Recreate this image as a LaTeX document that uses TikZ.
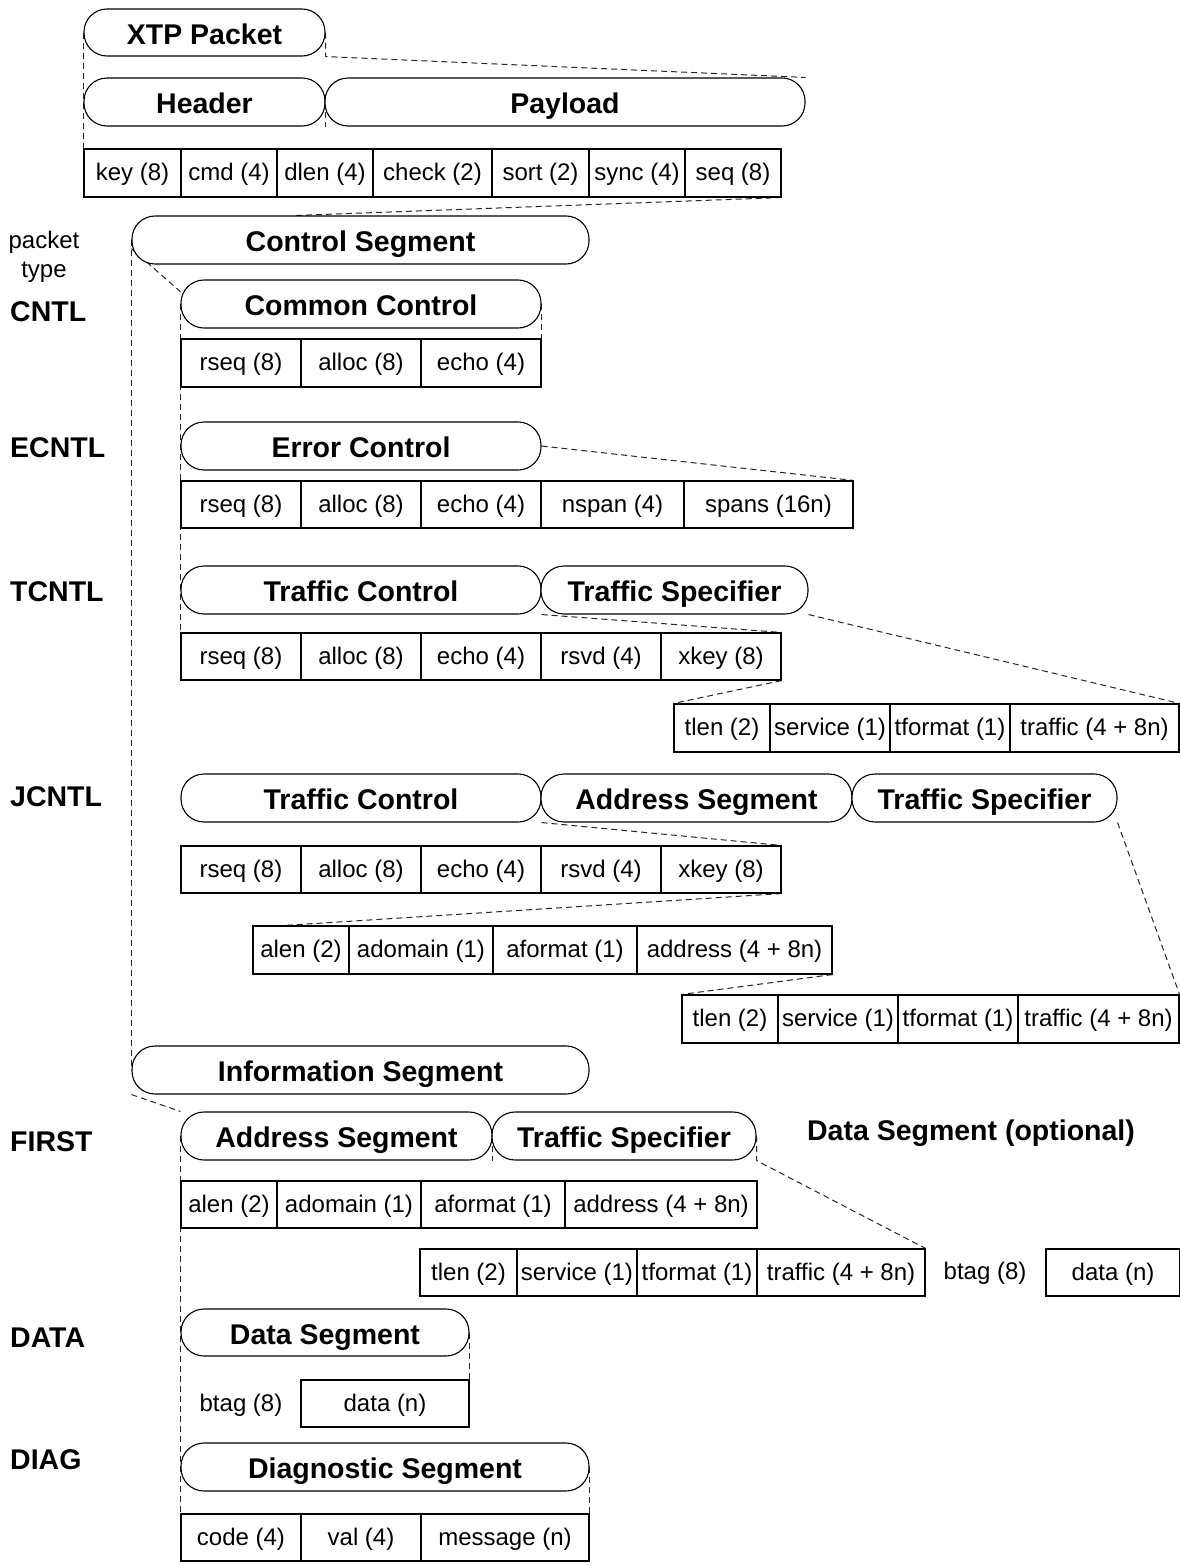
\documentclass[tikz,border=0pt]{standalone}
\usepackage{fontspec}
\setmainfont{Liberation Sans}
\usetikzlibrary{calc}
\pgfdeclarelayer{bg}
\pgfsetlayers{bg,main}
\tikzset{
  pill/.style={draw, line width=1.1pt, fill=white, rounded corners=23pt, inner sep=0pt,
    font=\bfseries\fontsize{28.5}{32}\selectfont, text height=23.4pt, text depth=0pt},
  fld/.style={draw, line width=1.1pt, fill=white, inner sep=0pt,
    font=\fontsize{24}{28}\selectfont, text height=18pt, text depth=3pt},
  bare/.style={inner sep=0pt, font=\fontsize{24}{29}\selectfont},
  lbl/.style={inner sep=0pt, anchor=west, font=\bfseries\fontsize{28.5}{32}\selectfont},
  conn/.style={line width=1pt, black!85, dash pattern=on 6pt off 4pt},
}
\newcommand\mycell[7]{%
  \pgfmathsetmacro\mcw{#3-#2}%
  \pgfmathsetmacro\mch{#5-#4}%
  \pgfmathsetmacro\mcx{(#2+#3)/2}%
  \pgfmathsetmacro\mcy{(#4+#5)/2}%
  \node[#6, minimum width=\mcw pt, minimum height=\mch pt] (#1) at (\mcx,\mcy) {#7};%
}
\begin{document}
\begin{tikzpicture}[x=1pt,y=-1pt]
\useasboundingbox (0,0) rectangle (1180,1566);
% top
\mycell{xtp}{84}{325}{9}{56}{pill}{XTP Packet}
\mycell{header}{84}{325}{78}{126}{pill}{Header}
\mycell{payload}{325}{805}{78}{126}{pill}{Payload}
\mycell{key}{84}{181}{149}{197}{fld}{key (8)}
\mycell{cmd}{181}{277}{149}{197}{fld}{cmd (4)}
\mycell{dlen}{277}{373}{149}{197}{fld}{dlen (4)}
\mycell{check}{373}{492}{149}{197}{fld}{check (2)}
\mycell{sort}{492}{589}{149}{197}{fld}{sort (2)}
\mycell{sync}{589}{685}{149}{197}{fld}{sync (4)}
\mycell{seq}{685}{781}{149}{197}{fld}{seq (8)}
% control segment
\mycell{cs}{132}{589}{216}{264}{pill}{Control Segment}
\node[bare, align=center] (ptype) at (44,257) {packet\\type};
% CNTL
\node[lbl] (lcntl) at (10,312) {CNTL};
\mycell{cc}{181}{541}{280}{328}{pill}{Common Control}
\mycell{ca}{181}{301}{339}{387}{fld}{rseq (8)}
\mycell{cb}{301}{421}{339}{387}{fld}{alloc (8)}
\mycell{cc3}{421}{541}{339}{387}{fld}{echo (4)}
% ECNTL
\node[lbl] (lecntl) at (10,448) {ECNTL};
\mycell{ec}{181}{541}{422}{470}{pill}{Error Control}
\mycell{ea}{181}{301}{481}{528}{fld}{rseq (8)}
\mycell{eb}{301}{421}{481}{528}{fld}{alloc (8)}
\mycell{ecc}{421}{541}{481}{528}{fld}{echo (4)}
\mycell{ed}{541}{684}{481}{528}{fld}{nspan (4)}
\mycell{ee}{684}{853}{481}{528}{fld}{spans (16n)}
% TCNTL
\node[lbl] (ltcntl) at (10,592) {TCNTL};
\mycell{tc}{181}{541}{566}{614}{pill}{Traffic Control}
\mycell{ts}{541}{808}{566}{614}{pill}{Traffic Specifier}
\mycell{ta}{181}{301}{633}{680}{fld}{rseq (8)}
\mycell{tb}{301}{421}{633}{680}{fld}{alloc (8)}
\mycell{tcc}{421}{541}{633}{680}{fld}{echo (4)}
\mycell{td}{541}{661}{633}{680}{fld}{rsvd (4)}
\mycell{te}{661}{781}{633}{680}{fld}{xkey (8)}
\mycell{sa}{674}{770}{704}{752}{fld}{tlen (2)}
\mycell{sb}{770}{890}{704}{752}{fld}{service (1)}
\mycell{sc}{890}{1010}{704}{752}{fld}{tformat (1)}
\mycell{sd}{1010}{1179}{704}{752}{fld}{traffic (4 + 8n)}
% JCNTL
\node[lbl] (ljcntl) at (10,797) {JCNTL};
\mycell{jtc}{181}{541}{774}{822}{pill}{Traffic Control}
\mycell{jas}{541}{852}{774}{822}{pill}{Address Segment}
\mycell{jts}{852}{1117}{774}{822}{pill}{Traffic Specifier}
\mycell{ja}{181}{301}{846}{893}{fld}{rseq (8)}
\mycell{jb}{301}{421}{846}{893}{fld}{alloc (8)}
\mycell{jc}{421}{541}{846}{893}{fld}{echo (4)}
\mycell{jd}{541}{661}{846}{893}{fld}{rsvd (4)}
\mycell{je}{661}{781}{846}{893}{fld}{xkey (8)}
\mycell{aa}{253}{349}{926}{974}{fld}{alen (2)}
\mycell{ab}{349}{493}{926}{974}{fld}{adomain (1)}
\mycell{ac}{493}{637}{926}{974}{fld}{aformat (1)}
\mycell{ad}{637}{832}{926}{974}{fld}{address (4 + 8n)}
\mycell{va}{682}{778}{995}{1043}{fld}{tlen (2)}
\mycell{vb}{778}{898}{995}{1043}{fld}{service (1)}
\mycell{vc}{898}{1018}{995}{1043}{fld}{tformat (1)}
\mycell{vd}{1018}{1179}{995}{1043}{fld}{traffic (4 + 8n)}
% information segment
\mycell{is}{132}{589}{1046}{1094}{pill}{Information Segment}
% FIRST
\node[lbl] (lfirst) at (10,1142) {FIRST};
\mycell{fas}{181}{492}{1112}{1160}{pill}{Address Segment}
\mycell{fts}{492}{756}{1112}{1160}{pill}{Traffic Specifier}
\node[lbl, anchor=center] (dsopt) at (971,1133) {Data Segment (optional)};
\mycell{fa}{181}{277}{1181}{1228}{fld}{alen (2)}
\mycell{fb}{277}{421}{1181}{1228}{fld}{adomain (1)}
\mycell{fc}{421}{565}{1181}{1228}{fld}{aformat (1)}
\mycell{fd}{565}{757}{1181}{1228}{fld}{address (4 + 8n)}
\mycell{ga}{420}{517}{1249}{1296}{fld}{tlen (2)}
\mycell{gb}{517}{637}{1249}{1296}{fld}{service (1)}
\mycell{gc}{637}{757}{1249}{1296}{fld}{tformat (1)}
\mycell{gd}{757}{925}{1249}{1296}{fld}{traffic (4 + 8n)}
\node[bare] (fbtag) at (985,1273) {btag (8)};
\mycell{fdata}{1046}{1180}{1249}{1296}{fld}{data (n)}
% DATA
\node[lbl] (ldata) at (10,1338) {DATA};
\mycell{ds}{181}{469}{1309}{1356}{pill}{Data Segment}
\node[bare] (dbtag) at (241,1405) {btag (8)};
\mycell{ddata}{301}{469}{1380}{1427}{fld}{data (n)}
% DIAG
\node[lbl] (ldiag) at (10,1460) {DIAG};
\mycell{dg}{181}{589}{1443}{1491}{pill}{Diagnostic Segment}
\mycell{code}{181}{301}{1514}{1561}{fld}{code (4)}
\mycell{val}{301}{421}{1514}{1561}{fld}{val (4)}
\mycell{msg}{421}{589}{1514}{1561}{fld}{message (n)}
% connectors behind
\begin{pgfonlayer}{bg}
\fill[white] (0,0) rectangle (1180,1566);
\draw[conn] (xtp.west) -- (key.north west);
\draw[conn] (xtp.east) -- (xtp.south east) -- (payload.north east);
\draw[conn] (header.east) -- (header.south east);
\draw[conn] (seq.south east) -- ($(cs.north west)!0.36!(cs.north east)$);
\draw[conn] (cs.west) -- (is.west);
\draw[conn] ($(cs.west)!0.35!(cs.south west)$) -- ($(cc.north west)!0.5!(cc.west)$);
\draw[conn] (cc.west) -- (ta.south west);
\draw[conn] (cc.east) -- (cc3.north east);
\draw[conn] (ec.east) -- (ee.north east);
\draw[conn] (tc.south east) -- (te.north east);
\draw[conn] (te.south east) -- (sa.north west);
\draw[conn] (ts.south east) -- (sd.north east);
\draw[conn] (jtc.south east) -- (je.north east);
\draw[conn] (je.south east) -- ($(aa.north west)!0.055!(ad.north east)$);
\draw[conn] (ad.south east) -- (va.north west);
\draw[conn] (jts.south east) -- (vd.north east);
\draw[conn] (is.south west) -- (fas.north west);
\draw[conn] (fas.west) -- (code.north west);
\draw[conn] (fas.east) -- (fas.south east);
\draw[conn] (fts.east) -- (fts.south east) -- (gd.north east);
\draw[conn] (ds.east) -- (ddata.north east);
\draw[conn] (dg.east) -- (msg.north east);
\end{pgfonlayer}
\end{tikzpicture}
\end{document}
